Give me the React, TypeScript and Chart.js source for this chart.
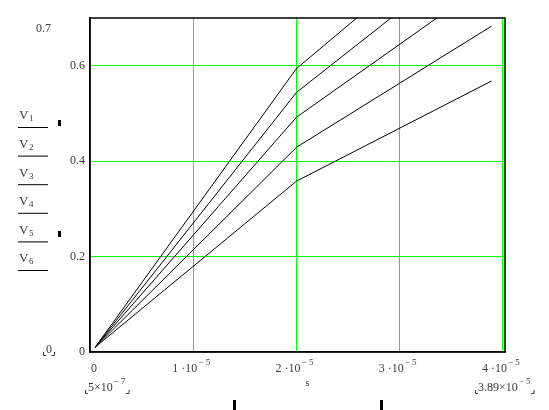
import React, { useEffect, useRef } from "react";
import { Chart, registerables } from "chart.js";

Chart.register(...registerables);

// ---- data ----
const xValues = [5e-7, 2e-5, 3.89e-5];
const V1 = [0.01, 0.594, 0.937];
const V2 = [0.01, 0.544, 0.866];
const V3 = [0.01, 0.492, 0.781];
const V4 = [0.01, 0.429, 0.683];
const V5 = [0.01, 0.358, 0.568];
const seriesValues = [V1, V2, V3, V4, V5];
const seriesNames = ["1", "2", "3", "4", "5", "6"];

const xTicks = [0, 1e-5, 2e-5, 3e-5, 4e-5];
const xTickMantissa = ["0", "1", "2", "3", "4"];
const xTickExp = ["", "\u2212 5", "\u2212 5", "\u2212 5", "\u2212 5"];
const yTicks = [0, 0.2, 0.4, 0.6];
const yTickLabels = ["0", "0.2", "0.4", "0.6"];
const xMin = 0;
const xMax = 4.02e-5;
const yMin = 0;
const yMax = 0.7;
const yMaxLabel = "0.7";
const xUnit = "s";
const xLowLimit = ["5\u00d710", "\u2212 7"];
const xHighLimit = ["3.89\u00d710", "\u2212 5"];
const yLowLimit = "0";

const GREEN = "#00ff00";
const TEXT = "#3a3a3a";
const FONT = '"Liberation Serif", "Times New Roman", serif';

function drawSci(ctx: CanvasRenderingContext2D, m: string, e: string, cx: number, cy: number) {
  ctx.font = `12px ${FONT}`;
  const mText = e ? m + " \u00b710" : m;
  const mw = ctx.measureText(mText).width;
  ctx.font = `9px ${FONT}`;
  const ew = e ? ctx.measureText(e).width + 1 : 0;
  const x0 = cx - (mw + ew) / 2;
  ctx.textAlign = "left";
  ctx.textBaseline = "middle";
  ctx.font = `12px ${FONT}`;
  ctx.fillText(mText, x0, cy);
  if (e) {
    ctx.font = `9px ${FONT}`;
    ctx.fillText(e, x0 + mw + 1, cy - 6);
  }
  return { left: x0, right: x0 + mw + ew };
}

function drawBracketed(ctx: CanvasRenderingContext2D, m: string, e: string, left: number, cy: number) {
  ctx.font = `12px ${FONT}`;
  ctx.textAlign = "left";
  ctx.textBaseline = "middle";
  const mw = ctx.measureText(m).width;
  ctx.fillText(m, left + 3, cy);
  let right = left + 3 + mw;
  if (e) {
    ctx.font = `9px ${FONT}`;
    ctx.fillText(e, right + 1, cy - 6);
    right += ctx.measureText(e).width + 2;
  }
  right += 2;
  ctx.strokeStyle = TEXT;
  ctx.lineWidth = 1;
  ctx.beginPath();
  ctx.moveTo(left + 0.5, cy + 2);
  ctx.lineTo(left + 0.5, cy + 5.5);
  ctx.lineTo(left + 3, cy + 5.5);
  ctx.moveTo(right - 2.5, cy + 5.5);
  ctx.lineTo(right + 0.5, cy + 5.5);
  ctx.lineTo(right + 0.5, cy + 2);
  ctx.stroke();
}

const decorPlugin = {
  id: "mathcadDecor",
  afterDraw(chart: any) {
    const ctx: CanvasRenderingContext2D = chart.ctx;
    const { left, right, top, bottom } = chart.chartArea;
    const xs = chart.scales.x;
    const ys = chart.scales.y;
    ctx.save();
    // frame
    ctx.strokeStyle = "#000";
    ctx.lineWidth = 1.5;
    ctx.strokeRect(left, top, right - left, bottom - top);

    ctx.fillStyle = TEXT;
    // y tick labels
    ctx.font = `12px ${FONT}`;
    ctx.textAlign = "right";
    ctx.textBaseline = "middle";
    yTicks.forEach((v, i) => {
      ctx.fillText(yTickLabels[i], left - 5, ys.getPixelForValue(v));
    });
    // upper y limit label
    ctx.textAlign = "left";
    ctx.fillText(yMaxLabel, 36, ys.getPixelForValue(yMax) + 11);
    // lower y limit (bracketed)
    drawBracketed(ctx, yLowLimit, "", 43, ys.getPixelForValue(yMin) - 2);

    // x tick labels
    ctx.fillStyle = TEXT;
    xTicks.forEach((v, i) => {
      const px = xs.getPixelForValue(v);
      drawSci(ctx, xTickMantissa[i], xTickExp[i], i === 0 ? px + 4 : px - 2, bottom + 17);
    });
    // unit
    ctx.font = `10px ${FONT}`;
    ctx.textAlign = "center";
    ctx.fillText(xUnit, xs.getPixelForValue(2e-5) + 11, bottom + 31);
    // x limits
    drawBracketed(ctx, xLowLimit[0], xLowLimit[1], 85, bottom + 36);
    drawBracketed(ctx, xHighLimit[0], xHighLimit[1], 475, bottom + 36);

    // trace legend
    seriesNames.forEach((n, i) => {
      const ly = 127 + 28.6 * i;
      ctx.fillStyle = TEXT;
      ctx.textAlign = "left";
      ctx.textBaseline = "middle";
      ctx.font = `13px ${FONT}`;
      ctx.fillText("V", 19, ly - 11);
      ctx.font = `9px ${FONT}`;
      ctx.fillText(n, 29, ly - 8);
      ctx.strokeStyle = "#000";
      ctx.lineWidth = 1;
      ctx.beginPath();
      ctx.moveTo(18, ly + 0.5);
      ctx.lineTo(48, ly + 0.5);
      ctx.stroke();
    });

    // placeholder markers
    ctx.fillStyle = "#000";
    ctx.fillRect(58, 120, 3, 6);
    ctx.fillRect(58, 231, 3, 6);
    ctx.fillRect(233, 400, 3, 10);
    ctx.fillRect(380, 400, 3, 10);
    ctx.restore();
  },
};

export default function App() {
  const ref = useRef<HTMLCanvasElement>(null);
  useEffect(() => {
    if (!ref.current) return;
    const gridColor = (c: any) => (c.tick && c.tick.value === 0 ? "rgba(0,0,0,0)" : GREEN);
    const chart = new Chart(ref.current, {
      type: "line",
      data: {
        datasets: seriesValues.map((vals, i) => ({
          label: "V" + seriesNames[i],
          data: xValues.map((x, j) => ({ x, y: vals[j] })),
          borderColor: "#000",
          borderWidth: 1,
          pointRadius: 0,
          fill: false,
          tension: 0,
        })),
      },
      options: {
        animation: false,
        responsive: false,
        events: [],
        layout: { padding: { left: 90, top: 18, right: 44, bottom: 58 } },
        plugins: { legend: { display: false }, tooltip: { enabled: false } },
        scales: {
          x: {
            type: "linear",
            min: xMin,
            max: xMax,
            afterBuildTicks: (s: any) => {
              s.ticks = xTicks.map((value) => ({ value }));
            },
            ticks: { display: false },
            grid: { color: gridColor, lineWidth: 1, drawTicks: false },
            border: { display: true, color: "#000", width: 1.5 },
          },
          y: {
            type: "linear",
            min: yMin,
            max: yMax,
            afterBuildTicks: (s: any) => {
              s.ticks = yTicks.map((value) => ({ value }));
            },
            ticks: { display: false },
            grid: { color: gridColor, lineWidth: 1, drawTicks: false },
            border: { display: true, color: "#000", width: 1.5 },
          },
        },
      } as any,
      plugins: [decorPlugin],
    });
    return () => chart.destroy();
  }, []);
  return (
    <div style={{ position: "fixed", left: 0, top: 0, width: 549, height: 410, background: "#fff" }}>
      <canvas ref={ref} width={549} height={410} style={{ display: "block" }} />
    </div>
  );
}
